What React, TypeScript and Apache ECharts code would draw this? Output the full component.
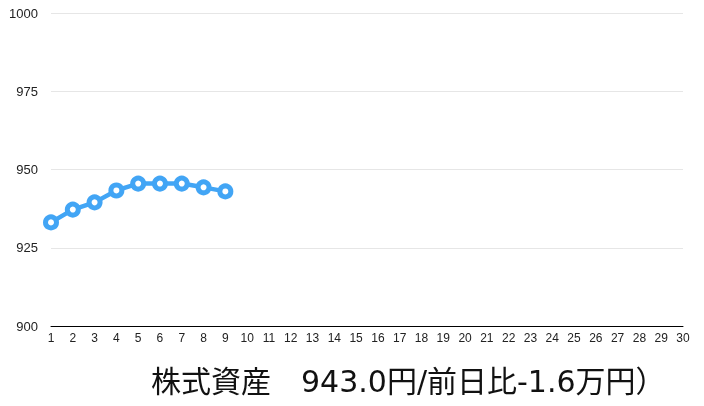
import { useRef, useEffect } from "react";
import * as echarts from "echarts";

const days: string[] = Array.from({ length: 30 }, (_, i) => String(i + 1));
const assets: number[] = [933.1, 937.2, 939.5, 943.3, 945.5, 945.5, 945.5, 944.3, 943.0];
const yMin = 900;
const yMax = 1000;
const yStep = 25;
const caption = "株式資産　943.0円/前日比-1.6万円）";

export default function App() {
  const chartRef = useRef<HTMLDivElement>(null);

  useEffect(() => {
    if (!chartRef.current) return;
    const chart = echarts.init(chartRef.current, null, { renderer: "svg" });

    const option: echarts.EChartsOption = {
      animation: false,
      title: {
        text: caption,
        left: 146,
        top: 361,
        textStyle: {
          fontFamily: "'DejaVu Sans', 'Noto Sans CJK JP', sans-serif",
          fontSize: 30,
          fontWeight: "normal",
          color: "#111",
        },
      },
      grid: {
        left: 51,
        right: 21,
        top: 13,
        bottom: 80,
      },
      xAxis: {
        type: "category",
        data: days,
        boundaryGap: false,
        axisLine: { lineStyle: { color: "#000", width: 1 } },
        axisTick: { show: false },
        axisLabel: {
          color: "#222",
          fontSize: 12,
          margin: 6,
          interval: 0,
          fontFamily: "'Liberation Sans', sans-serif",
        },
      },
      yAxis: {
        type: "value",
        min: yMin,
        max: yMax,
        interval: yStep,
        axisLine: { show: false },
        axisTick: { show: false },
        axisLabel: {
          color: "#222",
          fontSize: 13,
          margin: 13,
          formatter: (v: number) => String(v),
          fontFamily: "'Liberation Sans', sans-serif",
        },
        splitLine: { lineStyle: { color: "#e6e6e6", width: 1 } },
      },
      series: [
        {
          type: "line",
          data: assets,
          symbol: "circle",
          symbolSize: 11,
          showAllSymbol: true,
          lineStyle: { color: "#42a5f5", width: 4.5 },
          itemStyle: { color: "#fff", borderColor: "#42a5f5", borderWidth: 5 },
        },
      ],
    };

    chart.setOption(option);

    return () => {
      chart.dispose();
    };
  }, []);

  return (
    <div
      ref={chartRef}
      style={{ position: "fixed", left: 0, top: 0, width: "704px", height: "406px" }}
    />
  );
}
